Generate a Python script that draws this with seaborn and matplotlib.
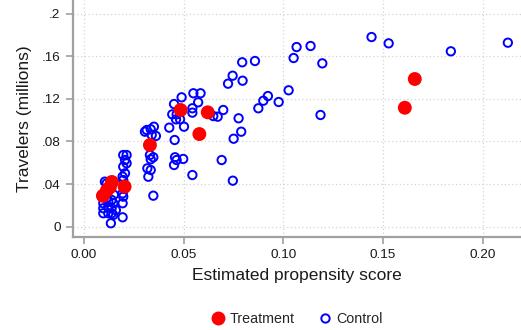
import matplotlib
matplotlib.use("Agg")
import matplotlib.pyplot as plt
import seaborn as sns
import pandas as pd
from matplotlib.lines import Line2D

# Treatment units
treat_x = [0.0095, 0.0115, 0.0130, 0.0140, 0.0204, 0.0331, 0.0485, 0.0579, 0.0621, 0.1610, 0.1660]
treat_y = [0.029, 0.034, 0.037, 0.042, 0.0376, 0.0767, 0.1096, 0.0870, 0.1074, 0.1117, 0.1387]

# Control units
ctrl_x = [0.1443, 0.1529, 0.1841, 0.2127, 0.1196, 0.1187,
          0.1067, 0.1137, 0.1052, 0.0794, 0.0858, 0.0746, 0.0723, 0.0796,
          0.1027, 0.0923, 0.0900, 0.0977, 0.0875, 0.0699, 0.0649, 0.0671,
          0.0776, 0.0789, 0.0751, 0.0691, 0.0747,
          0.0549, 0.0585, 0.0490, 0.0573, 0.0452, 0.0544, 0.0544, 0.0443, 0.0465,
          0.0462, 0.0482, 0.0502, 0.0428, 0.0351, 0.0315, 0.0335, 0.0306, 0.0340,
          0.0361, 0.0455, 0.0331, 0.0348, 0.0335, 0.0457, 0.0465, 0.0498, 0.0452,
          0.0318, 0.0335, 0.0323, 0.0544, 0.0348,
          0.0197, 0.0214, 0.0206, 0.0214, 0.0197, 0.0206, 0.0194, 0.0197, 0.0194,
          0.0197, 0.0194, 0.0194, 0.0203,
          0.0105, 0.0114, 0.0135, 0.0147, 0.0097, 0.0097, 0.0097, 0.0122, 0.0139,
          0.0122, 0.0139, 0.0122, 0.0147, 0.0114, 0.0139, 0.0105, 0.0150, 0.0160]
ctrl_y = [0.1781, 0.1722, 0.1647, 0.1728, 0.1534, 0.1049,
          0.1687, 0.1697, 0.1584, 0.1544, 0.1556, 0.1418, 0.1343, 0.1371,
          0.1281, 0.1227, 0.1183, 0.1171, 0.1112, 0.1096, 0.1039, 0.1033,
          0.1018, 0.0892, 0.0826, 0.0626, 0.0432,
          0.1253, 0.1253, 0.1215, 0.1168, 0.1152, 0.1112, 0.1071, 0.1055, 0.1055,
          0.1008, 0.1008, 0.0939, 0.0930, 0.0939, 0.0908, 0.0915, 0.0892, 0.0861,
          0.0852, 0.0814, 0.0673, 0.0652, 0.0633, 0.0652, 0.0626, 0.0636, 0.0579,
          0.0548, 0.0532, 0.0469, 0.0485, 0.0291,
          0.0673, 0.0673, 0.0626, 0.0595, 0.0563, 0.0501, 0.0470, 0.0438, 0.0313,
          0.0282, 0.0220, 0.0088, 0.0355,
          0.0423, 0.0407, 0.0032, 0.0110, 0.0220, 0.0173, 0.0126, 0.0126, 0.0126,
          0.0188, 0.0173, 0.0235, 0.0220, 0.0267, 0.0251, 0.0310, 0.0300, 0.0155]

x_ticks = [0.00, 0.05, 0.10, 0.15, 0.20]
x_tick_labels = ["0.00", "0.05", "0.10", "0.15", "0.20"]
y_ticks = [0, 0.04, 0.08, 0.12, 0.16, 0.2]
y_tick_labels = ["0", ".04", ".08", ".12", ".16", ".2"]

sns.set_style("white")
plt.rcParams['font.family'] = ['Liberation Sans', 'DejaVu Sans']

fig = plt.figure(figsize=(5.21, 3.30), dpi=100)
ax = fig.add_axes([73/521, 93/330, 448/521, 237/330])

df_c = pd.DataFrame({"x": ctrl_x, "y": ctrl_y})
df_t = pd.DataFrame({"x": treat_x, "y": treat_y})

ax.grid(True, color="#d4d4d4", linestyle=(0, (1, 2)), linewidth=0.9)
ax.set_axisbelow(True)

sns.scatterplot(data=df_c, x="x", y="y", ax=ax, marker="o", s=36,
                facecolors="none", edgecolor="#0000ff", linewidth=1.4, zorder=3)
sns.scatterplot(data=df_t, x="x", y="y", ax=ax, marker="o", s=100,
                color="#ff0000", edgecolor="none", linewidth=0, zorder=4)

ax.set_xlim(-0.0055, 0.2193)
ax.set_ylim(-0.0097, 0.2129)
ax.set_xticks(x_ticks)
ax.set_xticklabels(x_tick_labels)
ax.set_yticks(y_ticks)
ax.set_yticklabels(y_tick_labels)

for s in ["top", "right"]:
    ax.spines[s].set_visible(False)
for s in ["left", "bottom"]:
    ax.spines[s].set_color("#a0a0a0")
    ax.spines[s].set_linewidth(1.6)

ax.tick_params(axis="both", which="both", length=5, width=1.2, color="#a0a0a0",
               labelsize=9.7, labelcolor="#1a1a1a", direction="out",
               left=True, bottom=True)
ax.tick_params(axis="y", pad=4)
ax.set_xlabel("Estimated propensity score", fontsize=12.5, color="#1a1a1a", labelpad=5)
ax.set_ylabel("Travelers (millions)", fontsize=12.5, color="#1a1a1a", labelpad=7)

handles = [Line2D([], [], marker="o", linestyle="none", markerfacecolor="#ff0000",
                  markeredgecolor="none", markersize=10),
           Line2D([], [], marker="o", linestyle="none", markerfacecolor="none",
                  markeredgecolor="#0000ff", markeredgewidth=1.4, markersize=6)]
fig.legend(handles, ["Treatment", "Control"], loc="center", bbox_to_anchor=(296/521, 1 - 319/330),
           ncol=2, frameon=False, fontsize=10.3, handletextpad=0.2, columnspacing=1.5,
           handlelength=1.2)

fig.savefig("out.png", dpi=100)
